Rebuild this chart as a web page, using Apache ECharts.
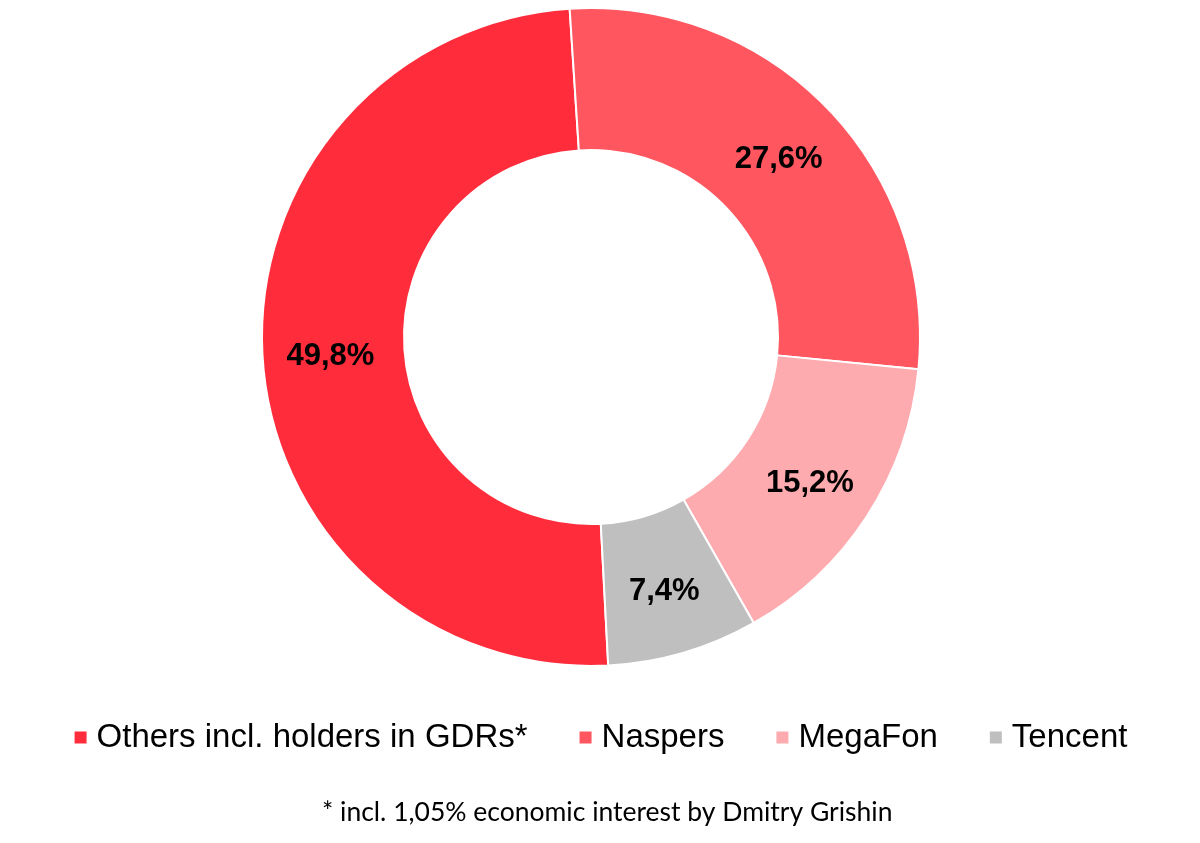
<!DOCTYPE html>
<html><head><meta charset="utf-8">
<script src="https://cdn.jsdelivr.net/npm/echarts@6/dist/echarts.min.js"></script>
<style>html,body{margin:0;padding:0;background:#fff}#c{width:1200px;height:843px}</style>
</head><body><div id="c"></div>
<script>
const categories = ['Others incl. holders in GDRs*', 'Naspers', 'MegaFon', 'Tencent'];
const values = [49.8, 27.6, 15.2, 7.4];
const colors = ['#FF2D3C', '#FF5660', '#FDABAF', '#BFBFBF'];
const footnote = '* incl. 1,05% economic interest by Dmitry Grishin';

const chart = echarts.init(document.getElementById('c'), null, {renderer: 'canvas'});
chart.setOption({
  animation: false,
  backgroundColor: '#fff',
  color: colors,
  legend: {
    top: 716, left: 'center',
    itemWidth: 14, itemHeight: 14, itemGap: 50, icon: 'rect',
    textStyle: {fontFamily: '"Liberation Sans"', fontSize: 33, color: '#000', padding: [0,0,0,4]},
    data: categories
  },
  graphic: [{
    type: 'text', left: 322, top: 799,
    style: {text: footnote, font: '26.5px Lato, sans-serif', fill: '#000'}
  }],
  series: [{
    type: 'pie',
    center: [591, 337],
    radius: [187, 329],
    startAngle: -87,
    clockwise: true,
    avoidLabelOverlap: false,
    itemStyle: {borderColor: '#fff', borderWidth: 2},
    label: {
      show: true, position: 'inside',
      formatter: p => p.value.toFixed(1).replace('.', ',') + '%',
      fontFamily: '"Liberation Sans"', fontWeight: 'bold', fontSize: 31, color: '#000',
      offset: [0, 4]
    },
    labelLine: {show: false},
    emphasis: {disabled: true},
    data: categories.map((n, i) => ({name: n, value: values[i]}))
  }]
});
</script></body></html>
